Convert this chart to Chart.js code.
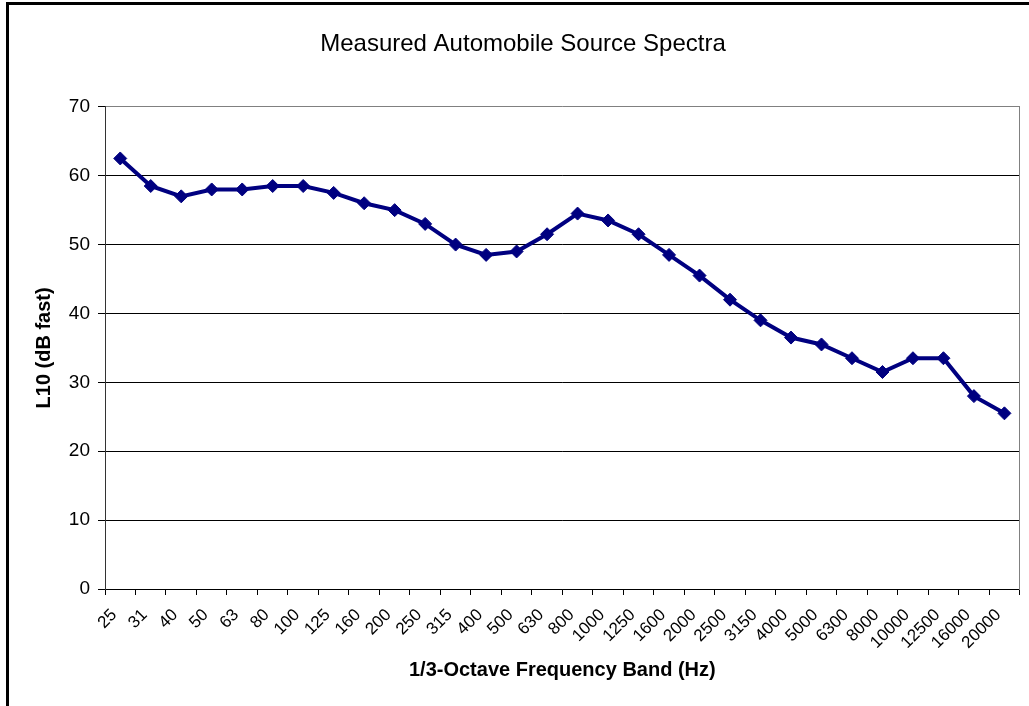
<!DOCTYPE html>
<html>
<head>
<meta charset="utf-8">
<script src="https://cdn.jsdelivr.net/npm/chart.js@4/dist/chart.umd.min.js"></script>
<style>
  html, body { margin: 0; padding: 0; background: #fff; overflow: hidden; }
  #wrap { position: relative; width: 1029px; height: 706px; }
  #frame {
    position: absolute; left: 6px; top: 2px; width: 1100px; height: 800px;
    border-left: 3px solid #000; border-top: 3px solid #000;
  }
  #chart { position: absolute; left: 0; top: 0; }
</style>
</head>
<body>
<div id="wrap">
  <div id="frame"></div>
  <canvas id="chart" width="1029" height="706"></canvas>
</div>
<script>
// 1/3-octave bands (Hz) and measured L10 levels (dB fast)
const bands = ['25', '31', '40', '50', '63', '80', '100', '125', '160', '200',
               '250', '315', '400', '500', '630', '800', '1000', '1250', '1600', '2000',
               '2500', '3150', '4000', '5000', '6300', '8000', '10000', '12500', '16000', '20000'];
const l10Values = [62.5, 58.5, 57, 58, 58, 58.5, 58.5, 57.5, 56, 55,
                   53, 50, 48.5, 49, 51.5, 54.5, 53.5, 51.5, 48.5, 45.5,
                   42, 39, 36.5, 35.5, 33.5, 31.5, 33.5, 33.5, 28, 25.5];
const yMin = 0;
const yMax = 70;
const yStep = 10;

const FONT = "'Liberation Sans', Arial, sans-serif";

const ctx = document.getElementById('chart').getContext('2d');

new Chart(ctx, {
  type: 'line',
  data: {
    labels: bands,
    datasets: [{
      label: 'L10',
      data: l10Values,
      borderColor: '#000080',
      borderWidth: 4,
      backgroundColor: '#000080',
      pointStyle: 'rectRot',
      pointRadius: 6.5,
      pointBorderWidth: 1,
      pointBackgroundColor: '#000080',
      pointBorderColor: '#000080',
      tension: 0,
      fill: false
    }]
  },
  options: {
    responsive: false,
    animation: false,
    devicePixelRatio: 1,
    layout: { padding: { left: 26, right: 9, top: 0, bottom: 0 } },
    plugins: {
      legend: { display: false },
      tooltip: { enabled: false },
      title: {
        display: true,
        text: 'Measured Automobile Source Spectra',
        color: '#000',
        font: { family: FONT, size: 24, weight: 'normal' },
        padding: { top: 30, bottom: 48 }
      }
    },
    scales: {
      x: {
        offset: true,
        grid: {
          offset: true,
          drawOnChartArea: false,
          drawTicks: true,
          tickLength: 6,
          tickColor: '#000'
        },
        border: { display: true, color: '#000', width: 1 },
        ticks: {
          autoSkip: false,
          minRotation: 45,
          maxRotation: 45,
          color: '#000',
          padding: 10,
          labelOffset: -6,
          font: { family: FONT, size: 17 }
        },
        title: {
          display: true,
          text: '1/3-Octave Frequency Band (Hz)',
          color: '#000',
          font: { family: FONT, size: 20, weight: 'bold' },
          padding: { top: 0, bottom: 24 }
        },
        afterFit: (scale) => { scale.height = 117; }
      },
      y: {
        min: yMin,
        max: yMax,
        ticks: {
          stepSize: yStep,
          color: '#000',
          padding: 8,
          font: { family: FONT, size: 19 }
        },
        grid: {
          color: (c) => (c.tick && c.tick.value === yMax ? '#808080' : '#000'),
          tickColor: '#000',
          tickLength: 7,
          lineWidth: 1
        },
        border: { display: true, color: '#333', width: 1 },
        title: {
          display: true,
          text: 'L10 (dB fast)',
          color: '#000',
          font: { family: FONT, size: 20, weight: 'bold' },
          padding: { top: 6, bottom: 0 }
        },
        afterFit: (scale) => { scale.width = 79; }
      },
      yRight: {
        position: 'right',
        min: yMin,
        max: yMax,
        ticks: { display: false },
        grid: { drawOnChartArea: false, drawTicks: false },
        border: { display: true, color: '#808080', width: 1 },
        afterFit: (scale) => { scale.width = 0; }
      }
    }
  }
});
</script>
</body>
</html>
